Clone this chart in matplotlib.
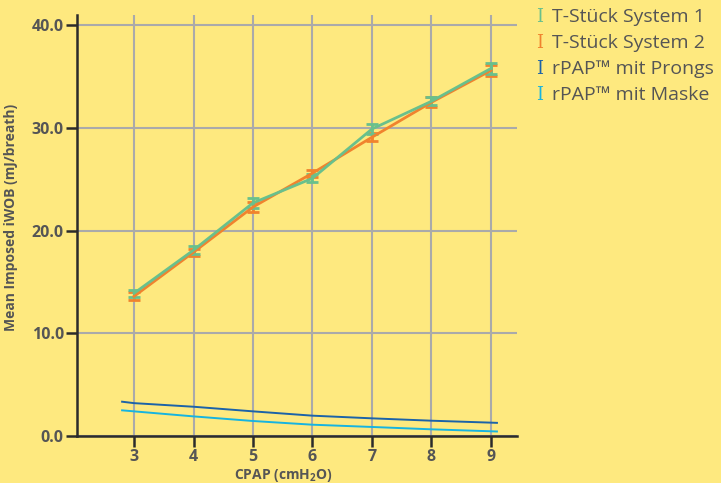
import matplotlib.pyplot as plt

# CPAP levels (cmH2O)
cpap = [3, 4, 5, 6, 7, 8, 9]

# T-Stück systems, mean imposed iWOB with error
t1_mean = [13.9, 18.1, 22.7, 25.1, 29.9, 32.6, 35.8]
t1_err = [0.35, 0.4, 0.5, 0.4, 0.45, 0.4, 0.5]
t2_mean = [13.6, 17.9, 22.3, 25.6, 29.1, 32.5, 35.6]
t2_err = [0.4, 0.35, 0.45, 0.35, 0.4, 0.5, 0.55]

# rPAP curves
rpap_x = [2.8, 3, 4, 5, 6, 7, 8, 9, 9.1]
prongs = [3.34, 3.2, 2.85, 2.4, 1.98, 1.72, 1.49, 1.3, 1.28]
maske = [2.5, 2.4, 1.91, 1.46, 1.1, 0.88, 0.65, 0.46, 0.44]

labels = ["T-Stück System 1", "T-Stück System 2", "rPAP™ mit Prongs", "rPAP™ mit Maske"]
colors = ["#69c08c", "#f0832e", "#1c63a8", "#17b4e0"]

bg = "#fee97f"
txt = "#555555"
font = "Open Sans"

fig = plt.figure(figsize=(7.21, 4.83), dpi=100, facecolor=bg)
ax = fig.add_axes([77 / 721, 47 / 483, 440 / 721, 421 / 483])
ax.set_facecolor(bg)

ax.plot(rpap_x, prongs, color=colors[2], lw=1.4)
ax.plot(rpap_x, maske, color=colors[3], lw=1.4)
ax.errorbar(cpap, t2_mean, yerr=t2_err, color=colors[1], lw=2, capsize=4, capthick=2)
ax.errorbar(cpap, t1_mean, yerr=t1_err, color=colors[0], lw=2, capsize=4, capthick=2)

ax.set_xlim(2.042, 9.437)
ax.set_ylim(0, 41)
ax.set_xticks(cpap)
ax.set_yticks([0, 10, 20, 30, 40])
ax.set_yticklabels(["0.0", "10.0", "20.0", "30.0", "40.0"])
ax.grid(True, color="#aaaaaa", lw=1.5)
ax.set_axisbelow(True)

for s in ["top", "right"]:
    ax.spines[s].set_visible(False)
for s in ["left", "bottom"]:
    ax.spines[s].set_color("#2b2b2b")
    ax.spines[s].set_linewidth(1.8)

ax.tick_params(length=8, width=1.8, color="#2b2b2b", labelcolor=txt, labelsize=11.5, pad=1.5)
for lab in ax.get_xticklabels() + ax.get_yticklabels():
    lab.set_fontweight("bold")
    lab.set_family(font)

ax.set_xlabel("CPAP (cmH$_\\mathregular{2}$O)", fontsize=10, fontweight="bold", color=txt, family=font)
ax.set_ylabel("Mean Imposed iWOB (mJ/breath)", fontsize=10, fontweight="bold", color=txt, family=font)
ax.xaxis.set_label_coords(0.47, -0.074)
ax.yaxis.set_label_coords(-0.134, 0.518)

# legend drawn as colored "I" glyphs with labels
for i, (lab, c) in enumerate(zip(labels, colors)):
    y = 1 - (17 + i * 26) / 483
    fig.text(536 / 721, y, "I", color=c, fontsize=13, family="DejaVu Serif", va="center")
    fig.text(552 / 721, y, lab, color=txt, fontsize=14, family=font, va="center")

fig.savefig("out.png", dpi=100, facecolor=bg)
